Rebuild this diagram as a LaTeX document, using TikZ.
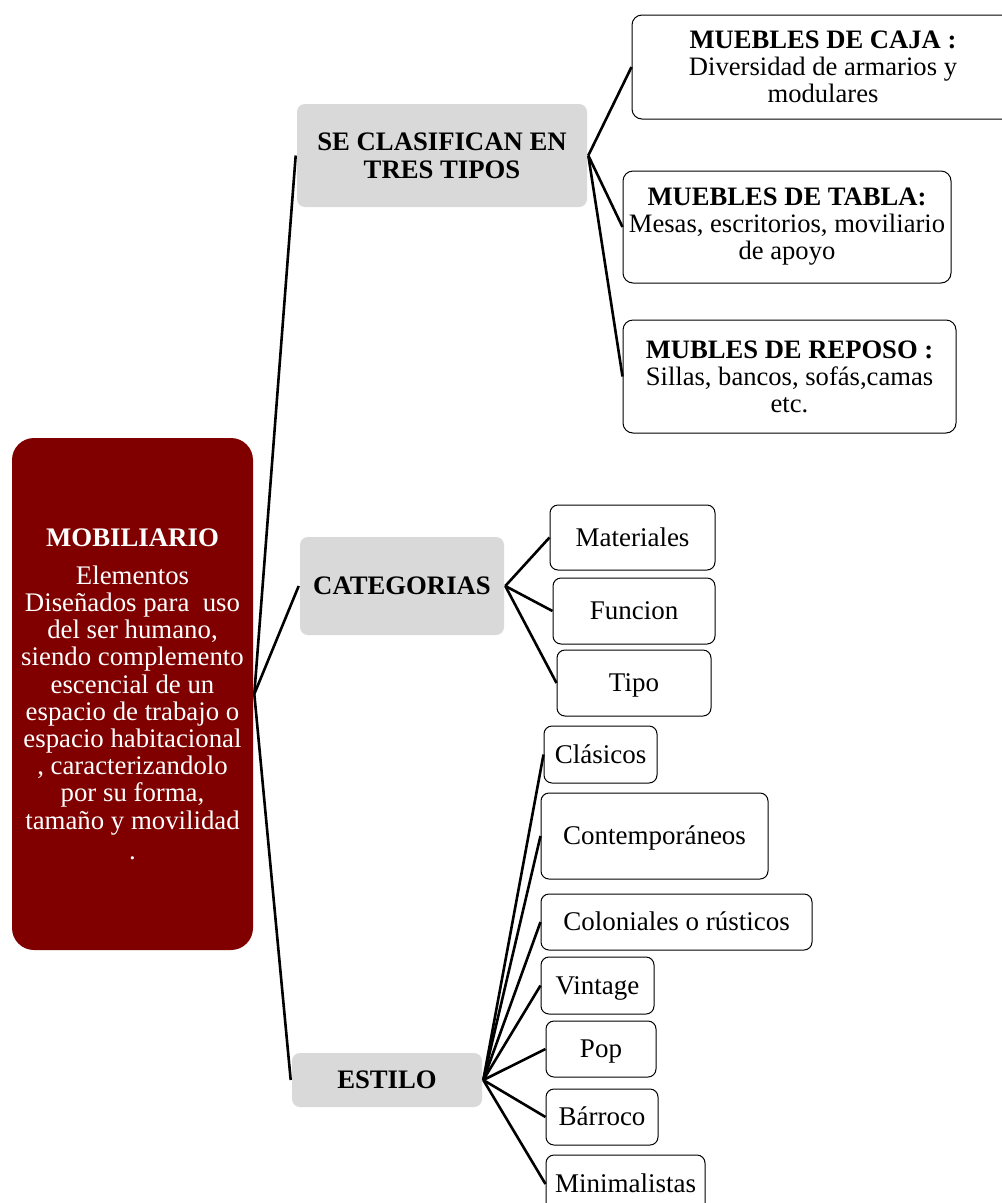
\documentclass[tikz,border=0pt]{standalone}
\usepackage{fontspec}
\setmainfont{Liberation Serif}
\usepackage{tikz}
\definecolor{granate}{RGB}{128,0,0}
\definecolor{gris}{RGB}{217,217,217}

\begin{document}
\begin{tikzpicture}[x=1pt, y=-1pt, line width=2.6pt,
	raiz/.style={fill=granate, text=white, rounded corners=22pt, inner sep=0pt, align=center,
		font=\fontsize{26.8}{27.2}\selectfont},
	rama/.style={fill=gris, rounded corners=8pt, inner sep=0pt, align=center,
		font=\fontsize{26.7}{28}\selectfont\bfseries},
	hoja/.style={draw, line width=1pt, rounded corners=8pt, inner sep=0pt, align=center,
		text height=23pt, text depth=6pt, font=\fontsize{27}{29}\selectfont},
	tipobox/.style={draw, line width=1pt, rounded corners=10pt, inner sep=0pt, align=center,
		font=\fontsize{26.6}{27}\selectfont}]

	\useasboundingbox (0,0) rectangle (1002,1203);

	% raiz
	\node[raiz, minimum width=241pt, minimum height=512pt] (mob) at (132.5,694)
		{\textbf{MOBILIARIO}\\[11pt] Elementos\\ Diseñados para~ uso\\ del ser humano,\\ siendo complemento\\
		 escencial de un\\ espacio de trabajo o\\ espacio habitacional\\ , caracterizandolo\\ por su forma,\\
		 tamaño y movilidad\\[3pt] .};

	% ramas
	\node[rama, minimum width=290pt, minimum height=103pt] (clas) at (442,155.5) {SE CLASIFICAN EN\\ TRES TIPOS};
	\node[rama, minimum width=204pt, minimum height=98pt] (cat) at (402,586) {CATEGORIAS};
	\node[rama, minimum width=190pt, minimum height=54pt] (est) at (387,1080) {ESTILO};

	% tres tipos
	\node[tipobox, minimum width=382pt, minimum height=104pt] (caja) at (823,67)
		{\textbf{MUEBLES DE CAJA :}\\ Diversidad de armarios y\\ modulares};
	\node[tipobox, minimum width=328pt, minimum height=112pt] (tabla) at (787,227)
		{\textbf{MUEBLES DE TABLA:}\\ Mesas, escritorios, moviliario\\ de apoyo};
	\node[tipobox, minimum width=333pt, minimum height=113pt] (reposo) at (789.5,376.5)
		{\textbf{MUBLES DE REPOSO :}\\ Sillas, bancos, sofás,camas\\ etc.};

	% categorias
	\node[hoja, minimum width=165pt, minimum height=65pt] (mat) at (632.5,537.5) {Materiales};
	\node[hoja, minimum width=162pt, minimum height=66pt] (func) at (634,611) {Funcion};
	\node[hoja, minimum width=154pt, minimum height=66pt] (tipo) at (634,683) {Tipo};

	% estilos
	\node[hoja, minimum width=113pt, minimum height=57pt] (clasicos) at (600.5,754.5) {Clásicos};
	\node[hoja, minimum width=227pt, minimum height=86pt] (contemp) at (654.5,836) {Contemporáneos};
	\node[hoja, minimum width=271pt, minimum height=56pt] (colon) at (676.5,922) {Coloniales o rústicos};
	\node[hoja, minimum width=113pt, minimum height=57pt] (vint) at (597.5,985.5) {Vintage};
	\node[hoja, minimum width=110pt, minimum height=56pt] (pop) at (601,1049) {Pop};
	\node[hoja, minimum width=112pt, minimum height=56pt] (barr) at (602,1117) {Bárroco};
	\node[hoja, minimum width=159pt, minimum height=58pt] (mini) at (625.5,1184) {Minimalistas};

	% conectores
	\draw (mob.east) -- (clas.west);
	\draw (mob.east) -- (cat.west);
	\draw (mob.east) -- (est.west);

	\draw (clas.east) -- (caja.west);
	\draw (clas.east) -- (tabla.west);
	\draw (clas.east) -- (reposo.west);

	\draw (cat.east) -- (mat.west);
	\draw (cat.east) -- (func.west);
	\draw (cat.east) -- (tipo.west);

	\draw (est.east) -- (clasicos.west);
	\draw (est.east) -- (contemp.west);
	\draw (est.east) -- (colon.west);
	\draw (est.east) -- (vint.west);
	\draw (est.east) -- (pop.west);
	\draw (est.east) -- (barr.west);
	\draw (est.east) -- (mini.west);

\end{tikzpicture}
\end{document}
